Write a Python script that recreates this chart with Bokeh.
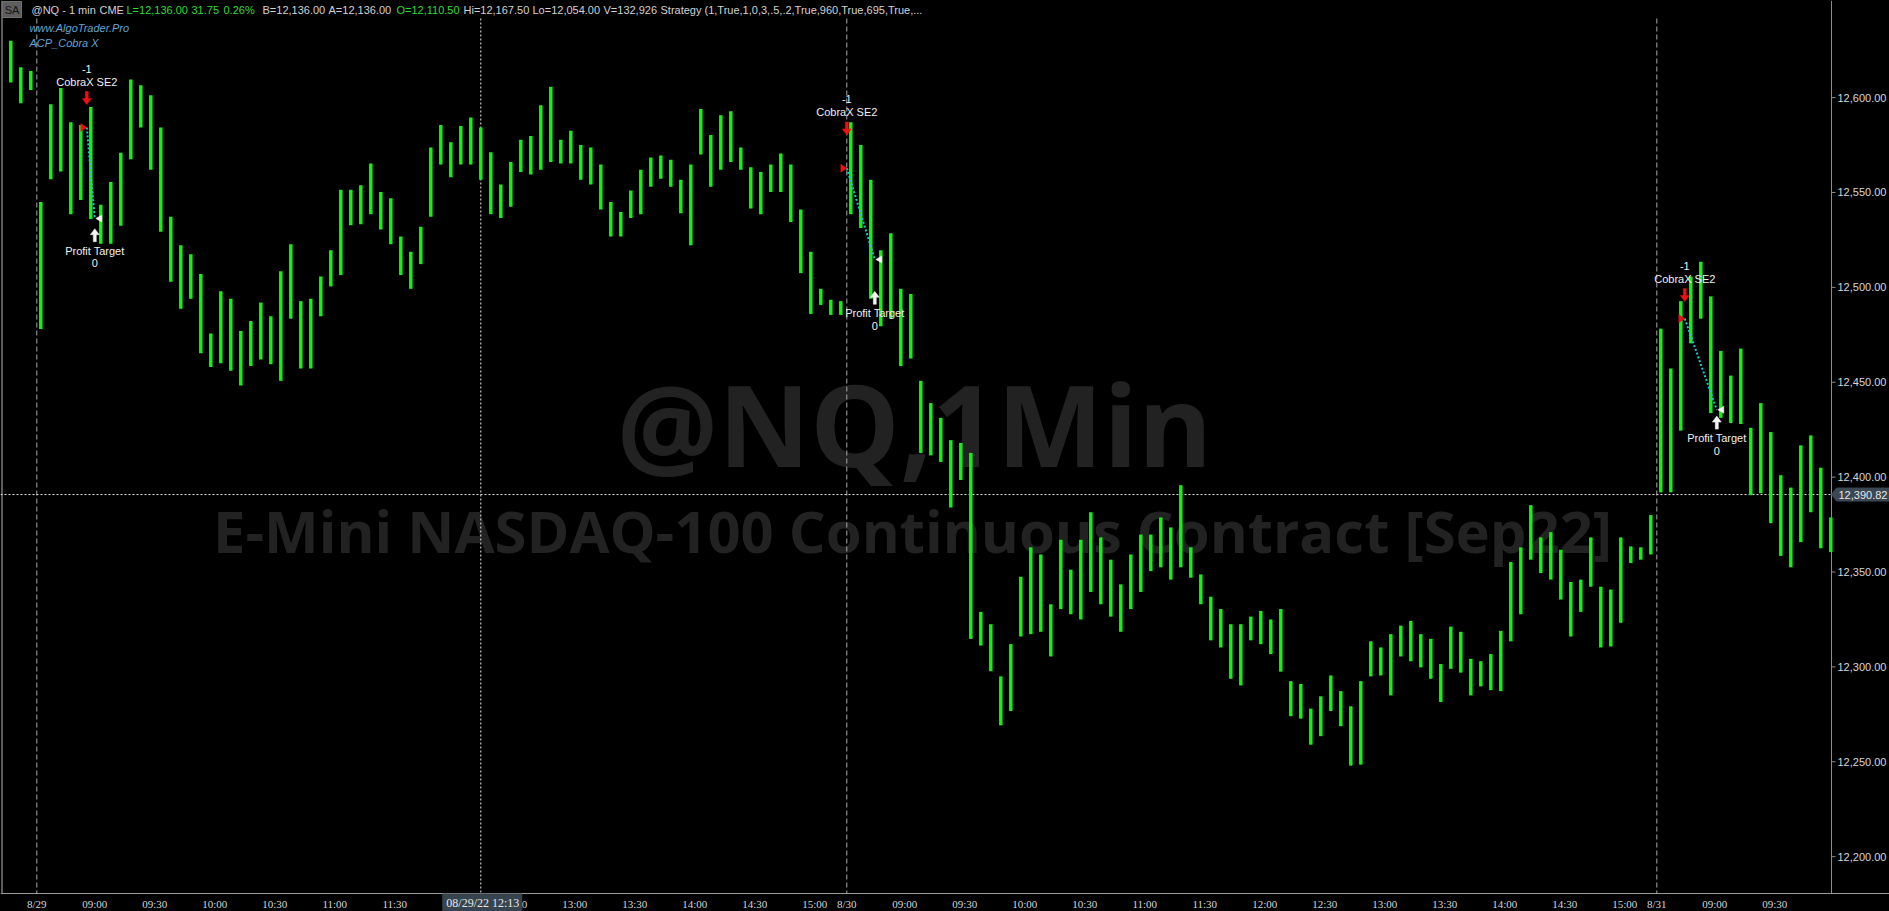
from bokeh.plotting import figure
from bokeh.models import Range1d, ColumnDataSource
from bokeh.core.properties import value
from bokeh.embed import file_html
from bokeh.resources import INLINE

# ---------------- data: 5-minute high/low read from the 1-minute @NQ chart ----------------
SESSION_BARS = 405           # 08:30-15:15 CT, one bar per minute
BAR_MIN = 5                  # minutes per plotted bar

prior_high = [12630.0, 12616.0, 12614.0]          # 8/26 close of session
prior_low = [12608.0, 12597.0, 12604.0]

d0829_high = [12545, 12596.5, 12605, 12587, 12585.5, 12595, 12543.5, 12555.5, 12571, 12609.5,
              12606.5, 12601.25, 12584.25, 12537.25, 12522.25, 12517.5, 12507, 12475.75, 12498, 12494,
              12477, 12482.25, 12492, 12484.75, 12508.5, 12522.75, 12492.75, 12494, 12505.75, 12519.5,
              12551.5, 12551.5, 12553.75, 12565.25, 12550.25, 12547, 12526.75, 12518.75, 12532, 12573.75,
              12585.5, 12576.5, 12585, 12589.5, 12584.25, 12571.25, 12554.25, 12566, 12577.75, 12579.75,
              12596, 12605.75, 12577.75, 12582.5, 12575, 12573.75, 12564.75, 12545, 12539.75, 12551,
              12562, 12568.5, 12569.5, 12567.25, 12556.75, 12564.75, 12594, 12580.25, 12590.75, 12592.75,
              12573.75, 12563.25, 12560.75, 12564.75, 12570.5, 12564.75, 12541, 12518.75, 12499.25, 12493.5,
              12492.75]
d0829_low = [12478, 12557, 12561, 12538.5, 12546, 12536, 12523, 12523, 12532.5, 12567.5,
             12584.25, 12562, 12529.25, 12503, 12488.75, 12494, 12465.25, 12458, 12460, 12456,
             12448.25, 12458.5, 12462, 12459.5, 12450.75, 12483.5, 12457.25, 12457.25, 12484.75, 12500.5,
             12506.5, 12532.75, 12533.25, 12538.5, 12530.5, 12522.75, 12506.5, 12499.25, 12512.25, 12537.25,
             12564.75, 12558, 12564.75, 12564.75, 12556.75, 12538.5, 12536.5, 12542.5, 12560.75, 12559.5,
             12562, 12566, 12565.25, 12565.25, 12556.75, 12554.25, 12541, 12526.75, 12526.75, 12536.5,
             12538.5, 12553, 12557.25, 12553, 12539, 12522.25, 12570, 12553, 12562, 12566,
             12562, 12541.5, 12538.5, 12550.25, 12550.25, 12534.5, 12507.5, 12486, 12490.75, 12485.5,
             12485.5]
d0830_high = [12587, 12575, 12556.75, 12519.5, 12528.5, 12499.25, 12496.5, 12450.75, 12439, 12431.25,
              12419.5, 12418, 12412.75, 12329, 12322.5, 12295, 12312, 12347.5, 12363, 12359.25,
              12333, 12367, 12351.25, 12367, 12381.5, 12368.25, 12356.5, 12343.5, 12359.25, 12369.75,
              12369.75, 12378.75, 12373.5, 12395.75, 12363, 12348.75, 12337, 12330.5, 12322.5, 12322.5,
              12326.5, 12329.5, 12325, 12330.5, 12292.5, 12291, 12278, 12284.5, 12295.5, 12287.25,
              12279.25, 12292.5, 12313.5, 12310.25, 12317.25, 12321.75, 12324.25, 12317.25, 12314.75, 12301.5,
              12321.25, 12318.5, 12304.25, 12303, 12306.75, 12319, 12355.25, 12363, 12385.25, 12368.25,
              12371, 12361.75, 12344.75, 12346, 12368.25, 12342.25, 12340.75, 12368.25, 12363.5, 12363,
              12380]
d0830_low = [12538.5, 12531.25, 12494, 12479.5, 12483.5, 12458.5, 12462.5, 12412.75, 12411.5, 12408,
             12384, 12398.5, 12314.75, 12311.25, 12297.75, 12269.25, 12276.75, 12316, 12317.25, 12318.5,
             12305.5, 12330.5, 12327.75, 12325, 12339.5, 12333, 12326.5, 12318.5, 12330.5, 12339.5,
             12350.5, 12352.5, 12346, 12352.5, 12347, 12333, 12314, 12310.25, 12293.75, 12290.25,
             12314, 12312, 12306.75, 12297.5, 12274, 12272.75, 12259, 12263.5, 12276.75, 12268.75,
             12248, 12248.5, 12295, 12295.5, 12285, 12305.5, 12303, 12299.75, 12293.75, 12281.5,
             12299, 12297, 12285, 12289.75, 12287.75, 12287.25, 12313.5, 12327.75, 12356.5, 12349.5,
             12346, 12335.5, 12316, 12329, 12342.25, 12310.25, 12310.75, 12323.25, 12354.75, 12356.5,
             12359.25]
d0831_high = [12478.25, 12457.25, 12492.75, 12505.75, 12513.5, 12495.25, 12466.5, 12453.5, 12467.75,
              12426, 12439, 12423.75, 12401, 12394.5, 12416.75, 12422, 12405, 12378.75]
d0831_low = [12392, 12392, 12424.5, 12470.5, 12483.5, 12433.75, 12431.25, 12428.5, 12428,
             12390.5, 12391.5, 12375.75, 12358.5, 12352.5, 12365.75, 12381.5, 12362.5, 12360.5]

session_dates = ["8/29", "8/30", "8/31"]
session_highs = [d0829_high, d0830_high, d0831_high]
session_lows = [d0829_low, d0830_low, d0831_low]
time_labels = ["09:00", "09:30", "10:00", "10:30", "11:00", "11:30", "12:00",
               "12:30", "13:00", "13:30", "14:00", "14:30", "15:00"]
labels_per_session = [13, 13, 2]

price_ticks = [12200, 12250, 12300, 12350, 12400, 12450, 12500, 12550, 12600]
last_price = 12390.82
cursor_label = "08/29/22 12:13"
cursor_minute = 222

# strategy signals (minute bar index from 8/29 08:30)
sig_entry_bar = [25, 405, 824]
sig_entry_price = [12584.25, 12562.75, 12483.5]
sig_entry_high = [12595.25, 12579.25, 12491.5]
sig_exit_bar = [29, 419, 840]
sig_exit_price = [12536.25, 12514.75, 12435.5]
sig_exit_low = [12532.5, 12499.5, 12433.75]
sig_entry_name = "CobraX SE2"
sig_entry_qty = "-1"
sig_exit_name = "Profit Target"
sig_exit_qty = "0"

GRAY_TXT, GREEN_TXT = "#d2d2d2", "#2fdc2f"
header_parts = [
    ("@NQ - 1 min", GRAY_TXT, 31), ("CME", GRAY_TXT, 99),
    ("L=12,136.00", GREEN_TXT, 126), ("31.75", GREEN_TXT, 191), ("0.26%", GREEN_TXT, 223),
    ("B=12,136.00", GRAY_TXT, 262), ("A=12,136.00", GRAY_TXT, 328),
    ("O=12,110.50", GREEN_TXT, 396), ("Hi=12,167.50", GRAY_TXT, 463),
    ("Lo=12,054.00", GRAY_TXT, 532), ("V=132,926", GRAY_TXT, 603),
    ("Strategy (1,True,1,0,3,.5,.2,True,960,True,695,True,...", GRAY_TXT, 660),
]

# ---------------- layout (pixel geometry of the chart window) ----------------
W, H = 1889, 911
AXIS_X, AXIS_Y = 1831, 893          # price-axis line / time-axis line (pixels)
PX_PER_BAR = 2.0
PX_PER_PT = 1.8977
X0 = -36.3 / PX_PER_BAR
X1 = X0 + W / PX_PER_BAR
Y1 = 12600 + 97.1 / PX_PER_PT
Y0 = Y1 - H / PX_PER_PT
DXP, DYP = 1 / PX_PER_BAR, 1 / PX_PER_PT


def px2x(px):
    return X0 + px * DXP


def py2y(py):
    return Y1 - py * DYP


GREEN = "#12f212"

# ---------------- build bar source ----------------
xs, hs, ls = [], [], []
for j, (h, l) in enumerate(zip(prior_high, prior_low)):
    xs.append(-BAR_MIN * len(prior_high) + BAR_MIN * j + 2)
    hs.append(h); ls.append(l)
for s, (hh, ll) in enumerate(zip(session_highs, session_lows)):
    for j, (h, l) in enumerate(zip(hh, ll)):
        xs.append(s * SESSION_BARS + BAR_MIN * j + 2)
        hs.append(h); ls.append(l)
bars = ColumnDataSource(dict(x=xs, high=hs, low=ls))

p = figure(width=W, height=H, output_backend="svg", toolbar_location=None,
           x_range=Range1d(X0, X1), y_range=Range1d(Y0, Y1),
           x_axis_type=None, y_axis_type=None,
           min_border=0, min_border_left=0, min_border_right=0, min_border_top=0, min_border_bottom=0,
           background_fill_color="black", border_fill_color="black", outline_line_color=None)

FONT = value("Liberation Sans")
NARROW = value("Liberation Sans Narrow")

# watermark
p.text(x=[px2x(914)], y=[py2y(422)], text=["@NQ,1Min"], text_align="center", text_baseline="middle",
       text_font=value("Open Sans"), text_font_style="bold", text_font_size="113px",
       text_color="#222222", level="underlay")
p.text(x=[px2x(912)], y=[py2y(530)], text=["E-Mini NASDAQ-100 Continuous Contract [Sep22]"],
       text_align="center", text_baseline="middle",
       text_font=value("Open Sans"), text_font_style="bold", text_font_size="58px",
       text_color="#222222", level="underlay")

# frame lines: left edge, price axis, time axis
p.segment(x0=[px2x(1.5)], y0=[py2y(0)], x1=[px2x(1.5)], y1=[py2y(AXIS_Y)], line_color="#5c5c5c", line_width=2)
p.segment(x0=[px2x(AXIS_X)], y0=[py2y(0)], x1=[px2x(AXIS_X)], y1=[py2y(AXIS_Y)], line_color="#8c8c8c", line_width=1)
p.segment(x0=[px2x(0)], y0=[py2y(AXIS_Y)], x1=[px2x(W)], y1=[py2y(AXIS_Y)], line_color="#9a9a9a", line_width=1)

# session separators and crosshair
sess_x = [s * SESSION_BARS for s in range(len(session_dates))]
p.segment(x0=sess_x, y0=[py2y(18)] * 3, x1=sess_x, y1=[py2y(AXIS_Y)] * 3,
          line_color="#a8a8a8", line_dash="5 3", line_width=1)
p.segment(x0=[cursor_minute], y0=[py2y(18)], x1=[cursor_minute], y1=[py2y(AXIS_Y)],
          line_color="#e8e8e8", line_dash="2 2", line_width=1)
p.segment(x0=[px2x(0)], y0=[last_price], x1=[px2x(AXIS_X)], y1=[last_price],
          line_color="#e8e8e8", line_dash="2 2", line_width=1)

# price bars
p.segment(x0="x", y0="low", x1="x", y1="high", source=bars, line_color=GREEN, line_width=3.5)

# price axis ticks and labels
nt = len(price_ticks)
p.segment(x0=[px2x(AXIS_X)] * nt, y0=price_ticks, x1=[px2x(AXIS_X + 4)] * nt, y1=price_ticks,
          line_color="#8c8c8c", line_width=1)
p.text(x=[px2x(AXIS_X + 6)] * nt, y=price_ticks, text=[f"{t:,.2f}" for t in price_ticks],
       text_align="left", text_baseline="middle", text_font=FONT, text_font_size="11px",
       text_color="#d6d6d6")

# time axis labels
tick_pos, tick_txt = [], []
for s, d in enumerate(session_dates):
    base = s * SESSION_BARS
    tick_pos.append(base); tick_txt.append(d)
    for t in time_labels[:labels_per_session[s]]:
        hh, mm = map(int, t.split(":"))
        tick_pos.append(base + (hh * 60 + mm) - (8 * 60 + 30) - 1)
        tick_txt.append(t)
p.text(x=tick_pos, y=[py2y(903)] * len(tick_pos), text=tick_txt, text_align="center",
       text_baseline="middle", text_font=NARROW, text_font_size="11px", text_color="#d6d6d6")

# trades
p.segment(x0=sig_entry_bar, y0=sig_entry_price, x1=sig_exit_bar, y1=sig_exit_price,
          line_color="#1cc6d8", line_width=2, line_dash="2 2")

down_arrow = [(0, 0), (4.5, 6), (1.5, 6), (1.5, 13), (-1.5, 13), (-1.5, 6), (-4.5, 6)]
red_xs, red_ys, wht_xs, wht_ys = [], [], [], []
for ex, ep, eh, xx, xp, xl in zip(sig_entry_bar, sig_entry_price, sig_entry_high,
                                  sig_exit_bar, sig_exit_price, sig_exit_low):
    tip = eh + 2 * DYP
    red_xs.append([ex + dx * DXP for dx, dy in down_arrow])
    red_ys.append([tip + dy * DYP for dx, dy in down_arrow])
    red_xs.append([ex, ex - 6 * DXP, ex - 6 * DXP])
    red_ys.append([ep, ep + 4 * DYP, ep - 4 * DYP])
    tip = xl - 3 * DYP
    wht_xs.append([xx + dx * DXP for dx, dy in down_arrow])
    wht_ys.append([tip - dy * DYP for dx, dy in down_arrow])
    wht_xs.append([xx + 1 * DXP, xx + 7 * DXP, xx + 7 * DXP])
    wht_ys.append([xp, xp + 3.5 * DYP, xp - 3.5 * DYP])
p.patches(red_xs, red_ys, fill_color="#ee1111", line_color="#ee1111", line_width=0.5)
p.patches(wht_xs, wht_ys, fill_color="#f4f4f4", line_color="#f4f4f4", line_width=0.5)

n = len(sig_entry_bar)
txt = dict(text_align="center", text_baseline="middle", text_font=FONT,
           text_font_size="11px", text_color="#f0f0f0")
p.text(x=sig_entry_bar, y=sig_entry_high, text=[sig_entry_name] * n, y_offset=-25, **txt)
p.text(x=sig_entry_bar, y=sig_entry_high, text=[sig_entry_qty] * n, y_offset=-38, **txt)
p.text(x=sig_exit_bar, y=sig_exit_low, text=[sig_exit_name] * n, y_offset=25, **txt)
p.text(x=sig_exit_bar, y=sig_exit_low, text=[sig_exit_qty] * n, y_offset=37.5, **txt)

# header line
p.quad(left=[px2x(2)], right=[px2x(21)], top=[py2y(1)], bottom=[py2y(17)],
       fill_color="#5e5e5e", line_color="#707070")
p.text(x=[px2x(11.5)], y=[py2y(9.5)], text=["SA"], text_align="center", text_baseline="middle",
       text_font=FONT, text_font_size="11px", text_color="#151515")
p.text(x=[px2x(hp[2]) for hp in header_parts], y=[py2y(9.5)] * len(header_parts),
       text=[hp[0] for hp in header_parts], text_color=[hp[1] for hp in header_parts],
       text_align="left", text_baseline="middle", text_font=FONT, text_font_size="11px")
p.text(x=[px2x(29)] * 2, y=[py2y(27.5), py2y(42.5)], text=["www.AlgoTrader.Pro", "ACP_Cobra X"],
       text_align="left", text_baseline="middle", text_font=FONT, text_font_style="italic",
       text_font_size="11px", text_color="#63a4d0")

# last price marker
mx = [px2x(AXIS_X), px2x(AXIS_X + 5), px2x(W), px2x(W), px2x(AXIS_X + 5)]
my = [last_price, last_price + 6.5 * DYP, last_price + 6.5 * DYP,
      last_price - 6.5 * DYP, last_price - 6.5 * DYP]
p.patch(mx, my, fill_color="#3a4853", line_color="#3a4853")
p.text(x=[px2x(AXIS_X + 7)], y=[last_price], text=[f"{last_price:,.2f}"], text_align="left",
       text_baseline="middle", text_font=FONT, text_font_size="11px", text_color="#e6e6e6")

# cursor time box
p.quad(left=[cursor_minute - 38 * DXP], right=[cursor_minute + 41 * DXP],
       top=[py2y(AXIS_Y + 0.5)], bottom=[py2y(H)], fill_color="#36444f", line_color="#36444f")
p.text(x=[cursor_minute + 2 * DXP], y=[py2y(902.5)], text=[cursor_label], text_align="center",
       text_baseline="middle", text_font=NARROW, text_font_size="12px", text_color="#e6e6e6")

html = file_html(p, INLINE, title="@NQ 1 min")
html = html.replace("</head>", "<style>html,body{margin:0;padding:0;background:#000;overflow:hidden;}</style></head>", 1)
open("out.html", "w").write(html)
